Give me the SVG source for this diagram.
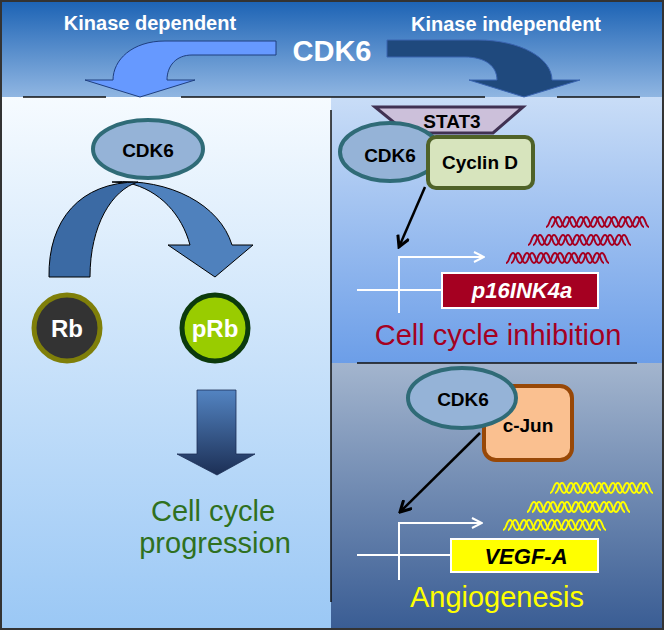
<svg xmlns="http://www.w3.org/2000/svg" width="664" height="630" viewBox="0 0 664 630">
<style>
  text { font-family: "Liberation Sans", Arial, sans-serif; }
  .b { font-weight: bold; }
  .lbl { font-weight: bold; font-size: 19px; fill: #000; text-anchor: middle; }
  .cdk { fill: #95b3d7; stroke: #2f6b77; stroke-width: 4; }
  .wline { stroke: #fff; stroke-width: 2; fill: none; }
  .blk { stroke: #000; stroke-width: 2.5; fill: none; }
  .seg { stroke: #111; stroke-width: 1.5; }
</style>
<defs>
  <linearGradient id="gBanner" x1="0" y1="0" x2="0" y2="1">
    <stop offset="0" stop-color="#1b62b4"/>
    <stop offset="1" stop-color="#90b6e2"/>
  </linearGradient>
  <linearGradient id="gLeft" x1="0" y1="0" x2="0" y2="1">
    <stop offset="0" stop-color="#f6fbff"/>
    <stop offset="1" stop-color="#9bc8f5"/>
  </linearGradient>
  <linearGradient id="gRT" x1="0" y1="0" x2="0" y2="1">
    <stop offset="0" stop-color="#c9ddf7"/>
    <stop offset="1" stop-color="#6c9ee8"/>
  </linearGradient>
  <linearGradient id="gRB" x1="0" y1="0" x2="0" y2="1">
    <stop offset="0" stop-color="#a3b5ce"/>
    <stop offset="1" stop-color="#3a5d94"/>
  </linearGradient>
  <linearGradient id="gDown" x1="0" y1="0" x2="0" y2="1">
    <stop offset="0" stop-color="#5384c2"/>
    <stop offset="1" stop-color="#1c2f55"/>
  </linearGradient>
  <marker id="mBlack" viewBox="0 0 14 14" refX="12" refY="7" markerWidth="14" markerHeight="14" markerUnits="userSpaceOnUse" orient="auto">
    <path d="M1,1 L12,7 L1,13" fill="none" stroke="#000" stroke-width="3"/>
  </marker>
  <marker id="mWhite" viewBox="0 0 12 12" refX="11" refY="6" markerWidth="12" markerHeight="12" markerUnits="userSpaceOnUse" orient="auto">
    <path d="M1,1 L11,6 L1,11" fill="none" stroke="#fff" stroke-width="2"/>
  </marker>
  <path id="strand" d="M0,10 C3.5,10 3.5,0 7,0 S10.5,10 14,10 S17.5,0 21,0 S24.5,10 28,10 S31.5,0 35,0 S38.5,10 42,10 S45.5,0 49,0 S52.5,10 56,10 S59.5,0 63,0 S66.5,10 70,10 S73.5,0 77,0 S80.5,10 84,10 S87.5,0 91,0 S94.5,10 98,10" fill="none" stroke-width="2"/>
  <g id="helix">
    <use href="#strand"/>
    <use href="#strand" x="5"/>
  </g>
</defs>

<!-- backgrounds -->
<rect x="0" y="0" width="664" height="97" fill="url(#gBanner)"/>
<rect x="2" y="97" width="330" height="531" fill="url(#gLeft)"/>
<rect x="331" y="97" width="331" height="266" fill="url(#gRT)"/>
<rect x="331" y="363" width="331" height="265" fill="url(#gRB)"/>
<line class="seg" x1="23" y1="97" x2="106" y2="97"/>
<line class="seg" x1="181" y1="97" x2="485" y2="97"/>
<line class="seg" x1="557" y1="97" x2="640" y2="97"/>
<line class="seg" x1="357" y1="363" x2="637" y2="363"/>
<line class="seg" x1="331" y1="110" x2="331" y2="602"/>
<rect x="1" y="1" width="662" height="628" fill="none" stroke="#333" stroke-width="2"/>

<!-- banner texts -->
<text x="150" y="30" class="b" font-size="20" fill="#fff" text-anchor="middle">Kinase dependent</text>
<text x="506" y="31" class="b" font-size="20" fill="#fff" text-anchor="middle">Kinase independent</text>
<text x="332" y="61" class="b" font-size="29" fill="#fff" text-anchor="middle">CDK6</text>

<g id="connectors">
  <!-- banner arrows -->
  <path d="M276,41 L165,41 C132,41 113,60 113,80 L85,80 L140,97 L195,80 L167,80 C167,66 176,55 192,55 L276,55 Z" fill="#6699ff" stroke="#1f3f7f" stroke-width="1"/>
  <path d="M387,40 L478,40 C520,40 552,58 552,80 L580,80 L524,97 L469,80 L497,80 C497,66 485,57 465,57 L387,57 Z" fill="#1f497d" stroke="#3a64b0" stroke-width="1"/>
  <!-- left curved arrow -->
  <path d="M112,182 C170,178 220,205 232,245 L253,245 L215,277 L168,245 L190,245 C182,215 160,190 128,183 Z" fill="#4f81bd" stroke="#000" stroke-width="1"/>
  <path d="M49,277 C48,220 80,182 138,182 C112,190 90,225 90,277 Z" fill="#3b6aa4" stroke="#000" stroke-width="1"/>
  <!-- down arrow -->
  <path d="M197,390 L236,390 L236,454 L255,454 L217,475 L177,454 L197,454 Z" fill="url(#gDown)" stroke="#1c2f55" stroke-width="0.8"/>
  <!-- black arrows -->
  <line class="blk" x1="425" y1="187" x2="399" y2="247" marker-end="url(#mBlack)"/>
  <line class="blk" x1="480" y1="433" x2="400" y2="512" marker-end="url(#mBlack)"/>
  <!-- promoters -->
  <path class="wline" d="M399,313 L399,257 L484,257" marker-end="url(#mWhite)"/>
  <line class="wline" x1="357" y1="290" x2="442" y2="290"/>
  <path class="wline" d="M399,580 L399,523 L482,523" marker-end="url(#mWhite)"/>
  <line class="wline" x1="357" y1="555" x2="451" y2="555"/>
</g>

<g id="cdk6-left">
  <ellipse class="cdk" cx="148" cy="149" rx="55" ry="29"/>
  <text x="148" y="157" class="lbl">CDK6</text>
</g>
<g id="rb">
  <circle cx="67" cy="328" r="33" fill="#333" stroke="#7f7f0a" stroke-width="5"/>
  <text x="67" y="337" class="b" font-size="24" fill="#fff" text-anchor="middle">Rb</text>
</g>
<g id="prb">
  <circle cx="215" cy="328" r="33" fill="#99cc00" stroke="#0c3a0c" stroke-width="5"/>
  <text x="215" y="337" class="b" font-size="24" fill="#fff" text-anchor="middle">pRb</text>
</g>
<g id="progression">
  <text x="213" y="521" font-size="29" fill="#2f7020" text-anchor="middle">Cell cycle</text>
  <text x="215" y="553" font-size="29" fill="#2f7020" text-anchor="middle">progression</text>
</g>

<g id="stat3">
  <path d="M375,107 L523,107 L493,133 L407,133 Z" fill="#ccc0da" stroke="#403152" stroke-width="3"/>
  <text x="452" y="128" class="lbl" font-size="18">STAT3</text>
</g>
<g id="cdk6-top">
  <ellipse class="cdk" cx="390" cy="152" rx="50" ry="29"/>
  <text x="390" y="162" class="lbl">CDK6</text>
</g>
<g id="cyclind">
  <rect x="428" y="137" width="105" height="51" rx="8" fill="#d7e4bd" stroke="#4f6228" stroke-width="4"/>
  <text x="480" y="169" class="lbl" font-size="20">Cyclin D</text>
</g>
<g id="p16">
  <rect x="442" y="273" width="156" height="35" fill="#a50021" stroke="#fff" stroke-width="2"/>
  <text x="522" y="298" class="b" font-size="22" font-style="italic" fill="#fff" text-anchor="middle">p16INK4a</text>
</g>
<g id="red-mrna" stroke="#a50021">
  <use href="#helix" x="546" y="217"/>
  <use href="#helix" x="528" y="235"/>
  <use href="#helix" x="506" y="253"/>
</g>
<text x="498" y="345" font-size="29" fill="#a50021" text-anchor="middle">Cell cycle inhibition</text>

<g id="cjun">
  <rect x="484" y="386" width="88" height="74" rx="12" fill="#fac090" stroke="#984807" stroke-width="4"/>
  <text x="528" y="432" class="lbl">c-Jun</text>
</g>
<g id="cdk6-bottom">
  <ellipse class="cdk" cx="462" cy="398" rx="54" ry="30"/>
  <text x="463" y="406" class="lbl">CDK6</text>
</g>
<g id="vegfa">
  <rect x="451" y="539" width="147" height="33" fill="#ffff00" stroke="#fff" stroke-width="2"/>
  <text x="526" y="564" class="b" font-size="22" font-style="italic" fill="#000" text-anchor="middle">VEGF-A</text>
</g>
<g id="yellow-mrna" stroke="#ffff00">
  <use href="#helix" x="550" y="483"/>
  <use href="#helix" x="527" y="502"/>
  <use href="#helix" x="503" y="520"/>
</g>
<text x="497" y="607" font-size="29" fill="#ffff00" text-anchor="middle">Angiogenesis</text>
</svg>
